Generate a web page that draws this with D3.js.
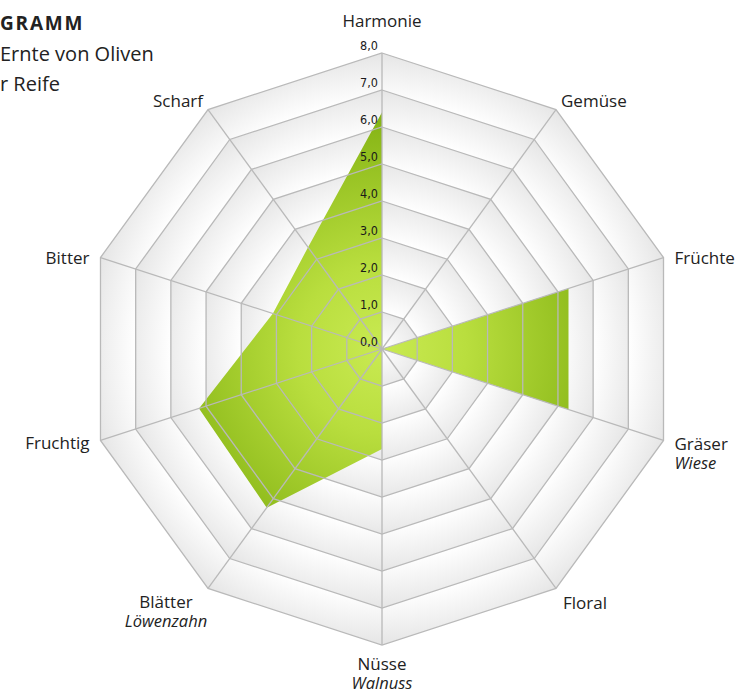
<!DOCTYPE html>
<html lang="de">
<head>
  <meta charset="utf-8">
  <title>Aromadiagramm</title>
  <script src="https://cdnjs.cloudflare.com/ajax/libs/d3/7.8.5/d3.min.js"></script>
  <style>
    body { margin: 0; background: #fff; }
    svg { display: block; font-family: "Open Sans", "Noto Sans", sans-serif; }
  </style>
</head>
<body>
  <script>
  // chart data
  const axisNames = ["Harmonie", "Gemüse", "Früchte", "Gräser", "Floral", "Nüsse", "Blätter", "Fruchtig", "Bitter", "Scharf"];
  const axisSubNames = ["", "", "", "Wiese", "", "Walnuss", "Löwenzahn", "", "", ""];
  const values = [6.4, 0, 5.3, 5.3, 0, 2.7, 5.3, 5.2, 3.1, 3.4];
  const ticks = [0, 1, 2, 3, 4, 5, 6, 7, 8];
  const tickLabels = ["0,0", "1,0", "2,0", "3,0", "4,0", "5,0", "6,0", "7,0", "8,0"];
  const titleLines = ["GRAMM", "Ernte von Oliven", "r Reife"];

  const width = 740, height = 692;
  const cx = 382, cy = 349;

  const svg = d3.select("body")
    .append("svg")
    .attr("width", width)
    .attr("height", height);

  const defs = svg.append("defs");

  const r = d3.scaleLinear().domain([0, 8]).range([0, 296]);
  const angle = d3.scaleLinear().domain([0, axisNames.length]).range([0, 2 * Math.PI]);

  const point = (i, v) => [
    cx + r(v) * Math.sin(angle(i)),
    cy - r(v) * Math.cos(angle(i))
  ];

  const g = svg.append("g");

  // ring backgrounds, outer first, each shaded white -> light grey outwards
  ticks.slice(1).reverse().forEach(t => {
    const id = "ring" + t;
    const grad = defs.append("radialGradient")
      .attr("id", id)
      .attr("gradientUnits", "userSpaceOnUse")
      .attr("cx", cx).attr("cy", cy).attr("r", r(t));
    grad.append("stop").attr("offset", (t - 1) / t * 0.95).attr("stop-color", "#ffffff");
    grad.append("stop").attr("offset", 0.97).attr("stop-color", "#eaeaea");
    grad.append("stop").attr("offset", 1).attr("stop-color", "#e5e5e5");

    g.append("polygon")
      .attr("points", axisNames.map((d, i) => point(i, t).join(",")).join(" "))
      .attr("fill", `url(#${id})`);
  });

  // data area
  const green = defs.append("radialGradient")
    .attr("id", "green")
    .attr("gradientUnits", "userSpaceOnUse")
    .attr("cx", cx).attr("cy", cy).attr("r", r(6.5));
  green.append("stop").attr("offset", 0).attr("stop-color", "#c9ea52");
  green.append("stop").attr("offset", 0.35).attr("stop-color", "#b9de3e");
  green.append("stop").attr("offset", 1).attr("stop-color", "#82b112");

  g.append("polygon")
    .attr("points", values.map((v, i) => point(i, v).join(",")).join(" "))
    .attr("fill", "url(#green)");

  // grid
  g.append("g")
    .selectAll("polygon")
    .data(ticks.slice(1))
    .join("polygon")
    .attr("points", t => axisNames.map((d, i) => point(i, t).join(",")).join(" "))
    .attr("fill", "none")
    .attr("stroke", "#b9b9b9")
    .attr("stroke-width", 1.3);

  g.append("g")
    .selectAll("line")
    .data(axisNames)
    .join("line")
    .attr("x1", cx).attr("y1", cy)
    .attr("x2", (d, i) => point(i, 8)[0])
    .attr("y2", (d, i) => point(i, 8)[1])
    .attr("stroke", "#b9b9b9")
    .attr("stroke-width", 1.3);

  // tick labels on the top axis
  g.append("g")
    .selectAll("text")
    .data(ticks)
    .join("text")
    .attr("x", cx - 4)
    .attr("y", t => cy - r(t) - 3)
    .attr("text-anchor", "end")
    .attr("font-family", "'DejaVu Sans Condensed', 'Liberation Sans Narrow', sans-serif")
    .attr("font-size", 12.5)
    .attr("fill", "#1a1a1a")
    .text((t, i) => tickLabels[i]);

  // axis labels, placed off the outer vertex
  const labelPlace = [
    { dx: 0, dy: -26, anchor: "middle" },
    { dx: 5, dy: -3, anchor: "start" },
    { dx: 11, dy: 6, anchor: "start" },
    { dx: 11, dy: 10, anchor: "start" },
    { dx: 7, dy: 21, anchor: "start" },
    { dx: 0, dy: 25, anchor: "middle" },
    { dx: -42, dy: 20, anchor: "middle" },
    { dx: -11, dy: 9, anchor: "end" },
    { dx: -11, dy: 6, anchor: "end" },
    { dx: -5, dy: -3, anchor: "end" }
  ];

  const labels = g.append("g")
    .attr("font-size", 17)
    .attr("fill", "#222");

  axisNames.forEach((name, i) => {
    const [x, y] = point(i, 8);
    const p = labelPlace[i];
    const t = labels.append("text")
      .attr("x", x + p.dx)
      .attr("y", y + p.dy)
      .attr("text-anchor", p.anchor);
    t.append("tspan").text(name);
    if (axisSubNames[i]) {
      t.append("tspan")
        .attr("x", x + p.dx)
        .attr("dy", 18.5)
        .attr("font-style", "italic")
        .attr("font-size", 16.5)
        .text(axisSubNames[i]);
    }
  });

  // title block at the top-left corner
  const title = svg.append("g").attr("fill", "#222");
  title.append("text")
    .attr("x", 0).attr("y", 30)
    .attr("font-size", 19)
    .attr("font-weight", "bold")
    .attr("letter-spacing", 1.8)
    .text(titleLines[0]);
  title.append("text")
    .attr("x", 0).attr("y", 61)
    .attr("font-size", 20)
    .text(titleLines[1]);
  title.append("text")
    .attr("x", 0).attr("y", 91)
    .attr("font-size", 20)
    .text(titleLines[2]);
  </script>
</body>
</html>
